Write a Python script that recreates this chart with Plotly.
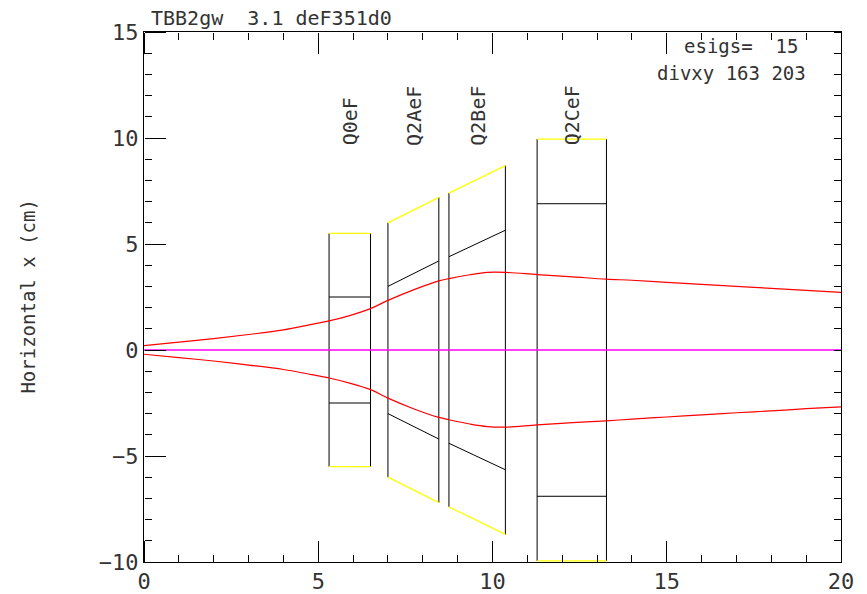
import plotly.graph_objects as go

# ---- data ----
beam_x = [0, 1, 2, 3, 4, 4.81, 5.31, 5.9, 6.5, 7.0, 7.75, 8.46, 8.75, 9.35, 9.85, 10.37, 11.28, 12.3, 13.27, 14.0, 15, 16, 17, 18, 19, 20]
beam_upper = [0.21, 0.37, 0.54, 0.73, 0.95, 1.21, 1.37, 1.62, 1.95, 2.34, 2.85, 3.26, 3.37, 3.55, 3.66, 3.66, 3.56, 3.45, 3.34, 3.29, 3.19, 3.10, 3.00, 2.91, 2.81, 2.72]
beam_lower = [-0.2, -0.36, -0.52, -0.71, -0.92, -1.16, -1.32, -1.56, -1.87, -2.27, -2.78, -3.18, -3.29, -3.49, -3.61, -3.64, -3.53, -3.43, -3.34, -3.26, -3.16, -3.06, -2.96, -2.87, -2.77, -2.68]

axis_line_x = [0, 20]
axis_line_y = [0, 0]

magnet_names = ["Q0eF", "Q2AeF", "Q2BeF", "Q2CeF"]
magnet_start = [5.31, 7.00, 8.75, 11.28]
magnet_end = [6.50, 8.46, 10.37, 13.27]
aperture_start = [5.5, 6.0, 7.4, 9.95]
aperture_end = [5.5, 7.2, 8.7, 9.95]
inner_start = [2.5, 3.0, 4.4, 6.9]
inner_end = [2.5, 4.2, 5.65, 6.9]

x_range = [0, 20]
y_range = [-10, 15]

title_text = "TBB2gw\u00a0\u00a03.1 deF351d0"
info_line1 = "esigs=\u00a0\u00a015"
info_line2 = "divxy 163 203"
ylabel = "Horizontal x (cm)"

FONT = "DejaVu Sans Mono"
TXT = "#333333"

fig = go.Figure()

for i in range(len(magnet_names)):
    xs, xe = magnet_start[i], magnet_end[i]
    a0, a1 = aperture_start[i], aperture_end[i]
    b0, b1 = inner_start[i], inner_end[i]
    fig.add_trace(go.Scatter(x=[xs, xs, None, xe, xe], y=[-a0, a0, None, -a1, a1],
                             mode="lines", line=dict(color="black", width=1),
                             showlegend=False, hoverinfo="skip"))
    fig.add_trace(go.Scatter(x=[xs, xe, None, xs, xe], y=[b0, b1, None, -b0, -b1],
                             mode="lines", line=dict(color="black", width=1),
                             showlegend=False, hoverinfo="skip"))
    fig.add_trace(go.Scatter(x=[xs, xe, None, xs, xe], y=[a0, a1, None, -a0, -a1],
                             mode="lines", line=dict(color="#ffff00", width=1.3),
                             showlegend=False, hoverinfo="skip"))
    fig.add_annotation(x=(xs + xe) / 2, y=9.55, xref="x", yref="y", text=magnet_names[i],
                       textangle=-90, showarrow=False, xanchor="center", yanchor="bottom",
                       font=dict(family=FONT, size=20, color=TXT))

fig.add_trace(go.Scatter(x=axis_line_x, y=axis_line_y, mode="lines",
                         line=dict(color="#ff00ff", width=1.3), showlegend=False, hoverinfo="skip"))
fig.add_trace(go.Scatter(x=beam_x, y=beam_upper, mode="lines", line_shape="spline",
                         line=dict(color="#ff0000", width=1.2), showlegend=False, hoverinfo="skip"))
fig.add_trace(go.Scatter(x=beam_x, y=beam_lower, mode="lines", line_shape="spline",
                         line=dict(color="#ff0000", width=1.2), showlegend=False, hoverinfo="skip"))

# invisible anchors so the tick-only overlay axes get drawn
for xa, ya in [("x2", "y"), ("x3", "y"), ("x", "y2"), ("x", "y3")]:
    fig.add_trace(go.Scatter(x=[x_range[0]], y=[y_range[0]], xaxis=xa, yaxis=ya, mode="markers",
                             marker=dict(opacity=0), showlegend=False, hoverinfo="skip"))

fig.add_annotation(xref="paper", yref="paper", x=0.007, y=1.0, yanchor="bottom", xanchor="left",
                   text=title_text, showarrow=False, font=dict(family=FONT, size=20, color=TXT))
fig.add_annotation(xref="x", yref="y", x=15.45, y=14.32, xanchor="left", yanchor="middle",
                   text=info_line1, showarrow=False, font=dict(family=FONT, size=19, color=TXT))
fig.add_annotation(xref="x", yref="y", x=14.65, y=13.05, xanchor="left", yanchor="middle",
                   text=info_line2, showarrow=False, font=dict(family=FONT, size=19, color=TXT))
fig.add_annotation(xref="paper", yref="paper", x=-0.167, y=0.5, xanchor="center", yanchor="middle",
                   text=ylabel, textangle=-90, showarrow=False, font=dict(family=FONT, size=19, color=TXT))

main = dict(showgrid=False, zeroline=False, showline=True, linecolor="black", linewidth=1,
            mirror=True, ticks="", dtick=5, tick0=0, automargin=False,
            tickfont=dict(family=FONT, size=22, color=TXT))


def tick_axis(rng, side, position, overlay, major_len):
    d = dict(range=rng, overlaying=overlay, side=side, anchor="free", position=position,
             showgrid=False, zeroline=False, showline=False, showticklabels=False,
             automargin=False, ticks="outside", tickcolor="black", tickwidth=1,
             tick0=0, dtick=1, ticklen=7)
    if major_len:
        d.update(dtick=5, ticklen=major_len,
                 minor=dict(dtick=1, tick0=0, ticks="outside", ticklen=7, tickwidth=1,
                            tickcolor="black", showgrid=False))
    return d


fig.update_layout(
    width=867, height=594,
    margin=dict(l=144, r=26, t=32, b=32, autoexpand=False),
    paper_bgcolor="white", plot_bgcolor="white",
    xaxis=dict(range=x_range, **main),
    yaxis=dict(range=y_range, **main),
    xaxis2=tick_axis(x_range, "top", 0, "x", 21),
    xaxis3=tick_axis(x_range, "bottom", 1, "x", 21),
    yaxis2=tick_axis(y_range, "right", 0, "y", 21),
    yaxis3=tick_axis(y_range, "left", 1, "y", 0),
)

fig.write_html("out.html")
